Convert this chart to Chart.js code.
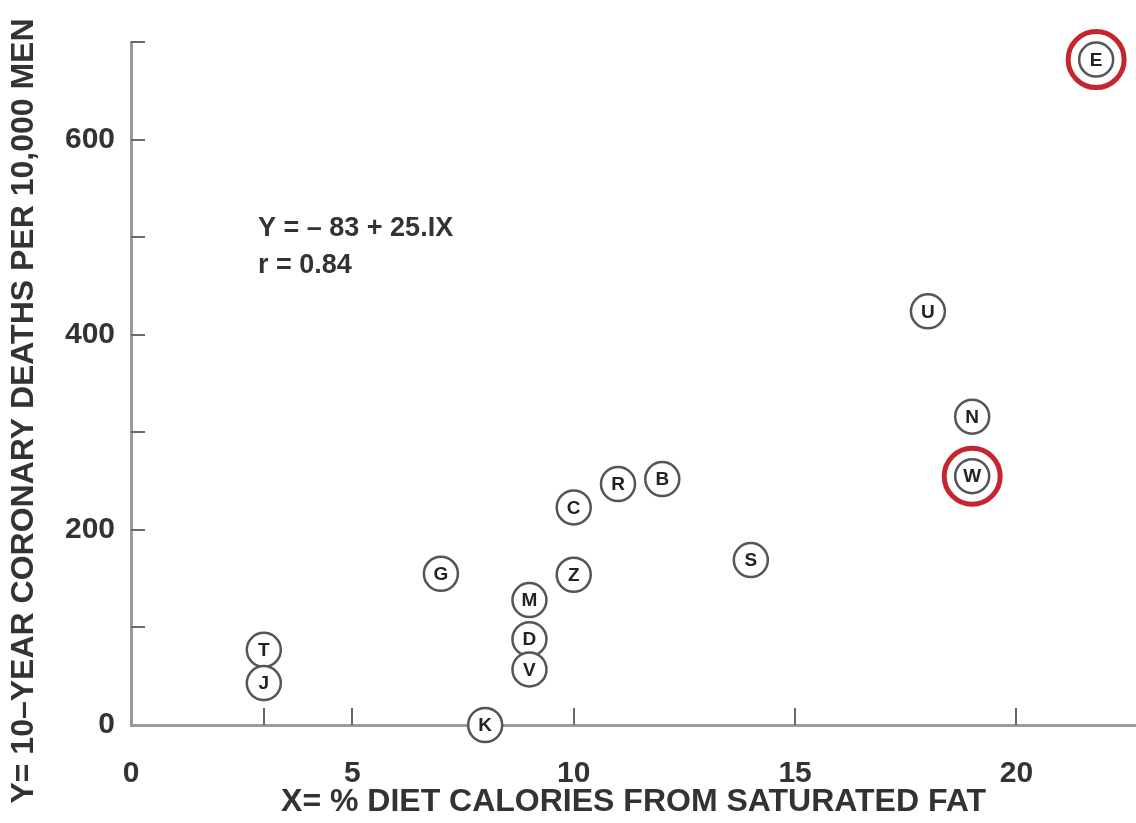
<!DOCTYPE html>
<html>
<head>
<meta charset="utf-8">
<script src="https://cdn.jsdelivr.net/npm/chart.js@4.4.1/dist/chart.umd.min.js"></script>
<style>
  html, body { margin: 0; padding: 0; background: #fff; }
</style>
</head>
<body>
<canvas id="chart" width="1136" height="823"></canvas>
<script>
(function () {
  "use strict";

  // country codes and their values
  const countries = ["E", "U", "N", "W", "S", "B", "R", "C", "Z", "G", "M", "D", "V", "T", "J", "K"];
  const satFat = [21.8, 18, 19, 19, 14, 12, 11, 10, 10, 7, 9, 9, 9, 3, 3, 8];
  const deaths = [682, 424, 316, 255, 169, 252, 247, 223, 154, 155, 128, 88, 57, 77, 43, 0];
  const highlighted = ["E", "W"];

  const xTickLabels = [0, 5, 10, 15, 20];
  const xTickMarks = [3, 5, 10, 15, 20];
  const yTickMarks = [100, 200, 300, 400, 500, 600, 700];

  const FONT = "'Liberation Sans', Arial, Helvetica, sans-serif";
  const TEXT = "#333";

  const points = countries.map((c, i) => ({ x: satFat[i], y: deaths[i], label: c }));
  const rings = points.filter(p => highlighted.includes(p.label));

  const tickStubs = {
    id: "tickStubs",
    beforeDatasetsDraw(chart) {
      const { ctx, chartArea, scales } = chart;
      ctx.save();
      ctx.strokeStyle = "#6a6a6a";
      ctx.lineWidth = 2;
      yTickMarks.forEach(v => {
        const y = Math.round(scales.y.getPixelForValue(v));
        ctx.beginPath();
        ctx.moveTo(chartArea.left, y);
        ctx.lineTo(chartArea.left + 14, y);
        ctx.stroke();
      });
      xTickMarks.forEach(v => {
        const x = Math.round(scales.x.getPixelForValue(v));
        ctx.beginPath();
        ctx.moveTo(x, chartArea.bottom);
        ctx.lineTo(x, chartArea.bottom - 17);
        ctx.stroke();
      });
      ctx.restore();
    }
  };

  const pointLetters = {
    id: "pointLetters",
    afterDatasetsDraw(chart) {
      const { ctx } = chart;
      const meta = chart.getDatasetMeta(1);
      ctx.save();
      ctx.fillStyle = "#222";
      ctx.font = "bold 19px " + FONT;
      ctx.textAlign = "center";
      ctx.textBaseline = "middle";
      meta.data.forEach((el, i) => {
        ctx.fillText(points[i].label, el.x, el.y + 1);
      });
      ctx.restore();
    }
  };

  const extraText = {
    id: "extraText",
    afterDraw(chart) {
      const { ctx } = chart;
      ctx.save();
      ctx.fillStyle = TEXT;
      ctx.textBaseline = "middle";
      ctx.textAlign = "left";
      ctx.font = "bold 27px " + FONT;
      ctx.fillText("Y = \u2013 83 + 25.IX", 258, 229);
      ctx.fillText("r = 0.84", 258, 266);

      // y axis title
      ctx.translate(24, 411);
      ctx.rotate(-Math.PI / 2);
      ctx.textAlign = "center";
      ctx.font = "bold 32px " + FONT;
      ctx.fillText("Y= 10\u2013YEAR CORONARY DEATHS PER 10,000 MEN", 0, 0);
      ctx.restore();
    }
  };

  new Chart(document.getElementById("chart"), {
    type: "scatter",
    data: {
      datasets: [
        {
          data: rings,
          pointRadius: 28,
          pointBorderWidth: 5,
          pointBorderColor: "#c4262e",
          pointBackgroundColor: "rgba(255,255,255,0)",
          clip: false
        },
        {
          data: points,
          pointRadius: 17,
          pointBorderWidth: 2.5,
          pointBorderColor: "#555",
          pointBackgroundColor: "#fff",
          clip: false
        }
      ]
    },
    options: {
      responsive: false,
      animation: false,
      events: [],
      layout: { autoPadding: false, padding: { top: 42, right: 0, left: 0, bottom: 0 } },
      plugins: {
        legend: { display: false },
        tooltip: { enabled: false }
      },
      scales: {
        x: {
          type: "linear",
          min: 0,
          max: 22.7,
          afterBuildTicks(scale) {
            scale.ticks = xTickLabels.map(v => ({ value: v }));
          },
          afterFit(scale) {
            scale.height = 98;
            scale.paddingLeft = 0;
            scale.paddingRight = 0;
          },
          grid: { display: true, drawOnChartArea: false, drawTicks: false },
          border: { display: true, color: "#9a9a9a", width: 3 },
          ticks: {
            padding: 31,
            color: TEXT,
            font: { family: FONT, size: 30, weight: "bold" },
            maxRotation: 0
          },
          title: {
            display: true,
            text: "X= % DIET CALORIES FROM SATURATED FAT",
            color: TEXT,
            font: { family: FONT, size: 32, weight: "bold" },
            padding: { top: 0, bottom: 2 }
          }
        },
        y: {
          type: "linear",
          min: 0,
          max: 700,
          afterFit(scale) {
            scale.width = 131;
          },
          grid: { display: true, drawOnChartArea: false, drawTicks: false },
          border: { display: true, color: "#9a9a9a", width: 3 },
          ticks: {
            stepSize: 100,
            padding: 16,
            color: TEXT,
            font: { family: FONT, size: 30, weight: "bold" },
            callback: v => (v % 200 === 0 ? String(v) : "")
          }
        }
      }
    },
    plugins: [tickStubs, pointLetters, extraText]
  });
})();
</script>
</body>
</html>
